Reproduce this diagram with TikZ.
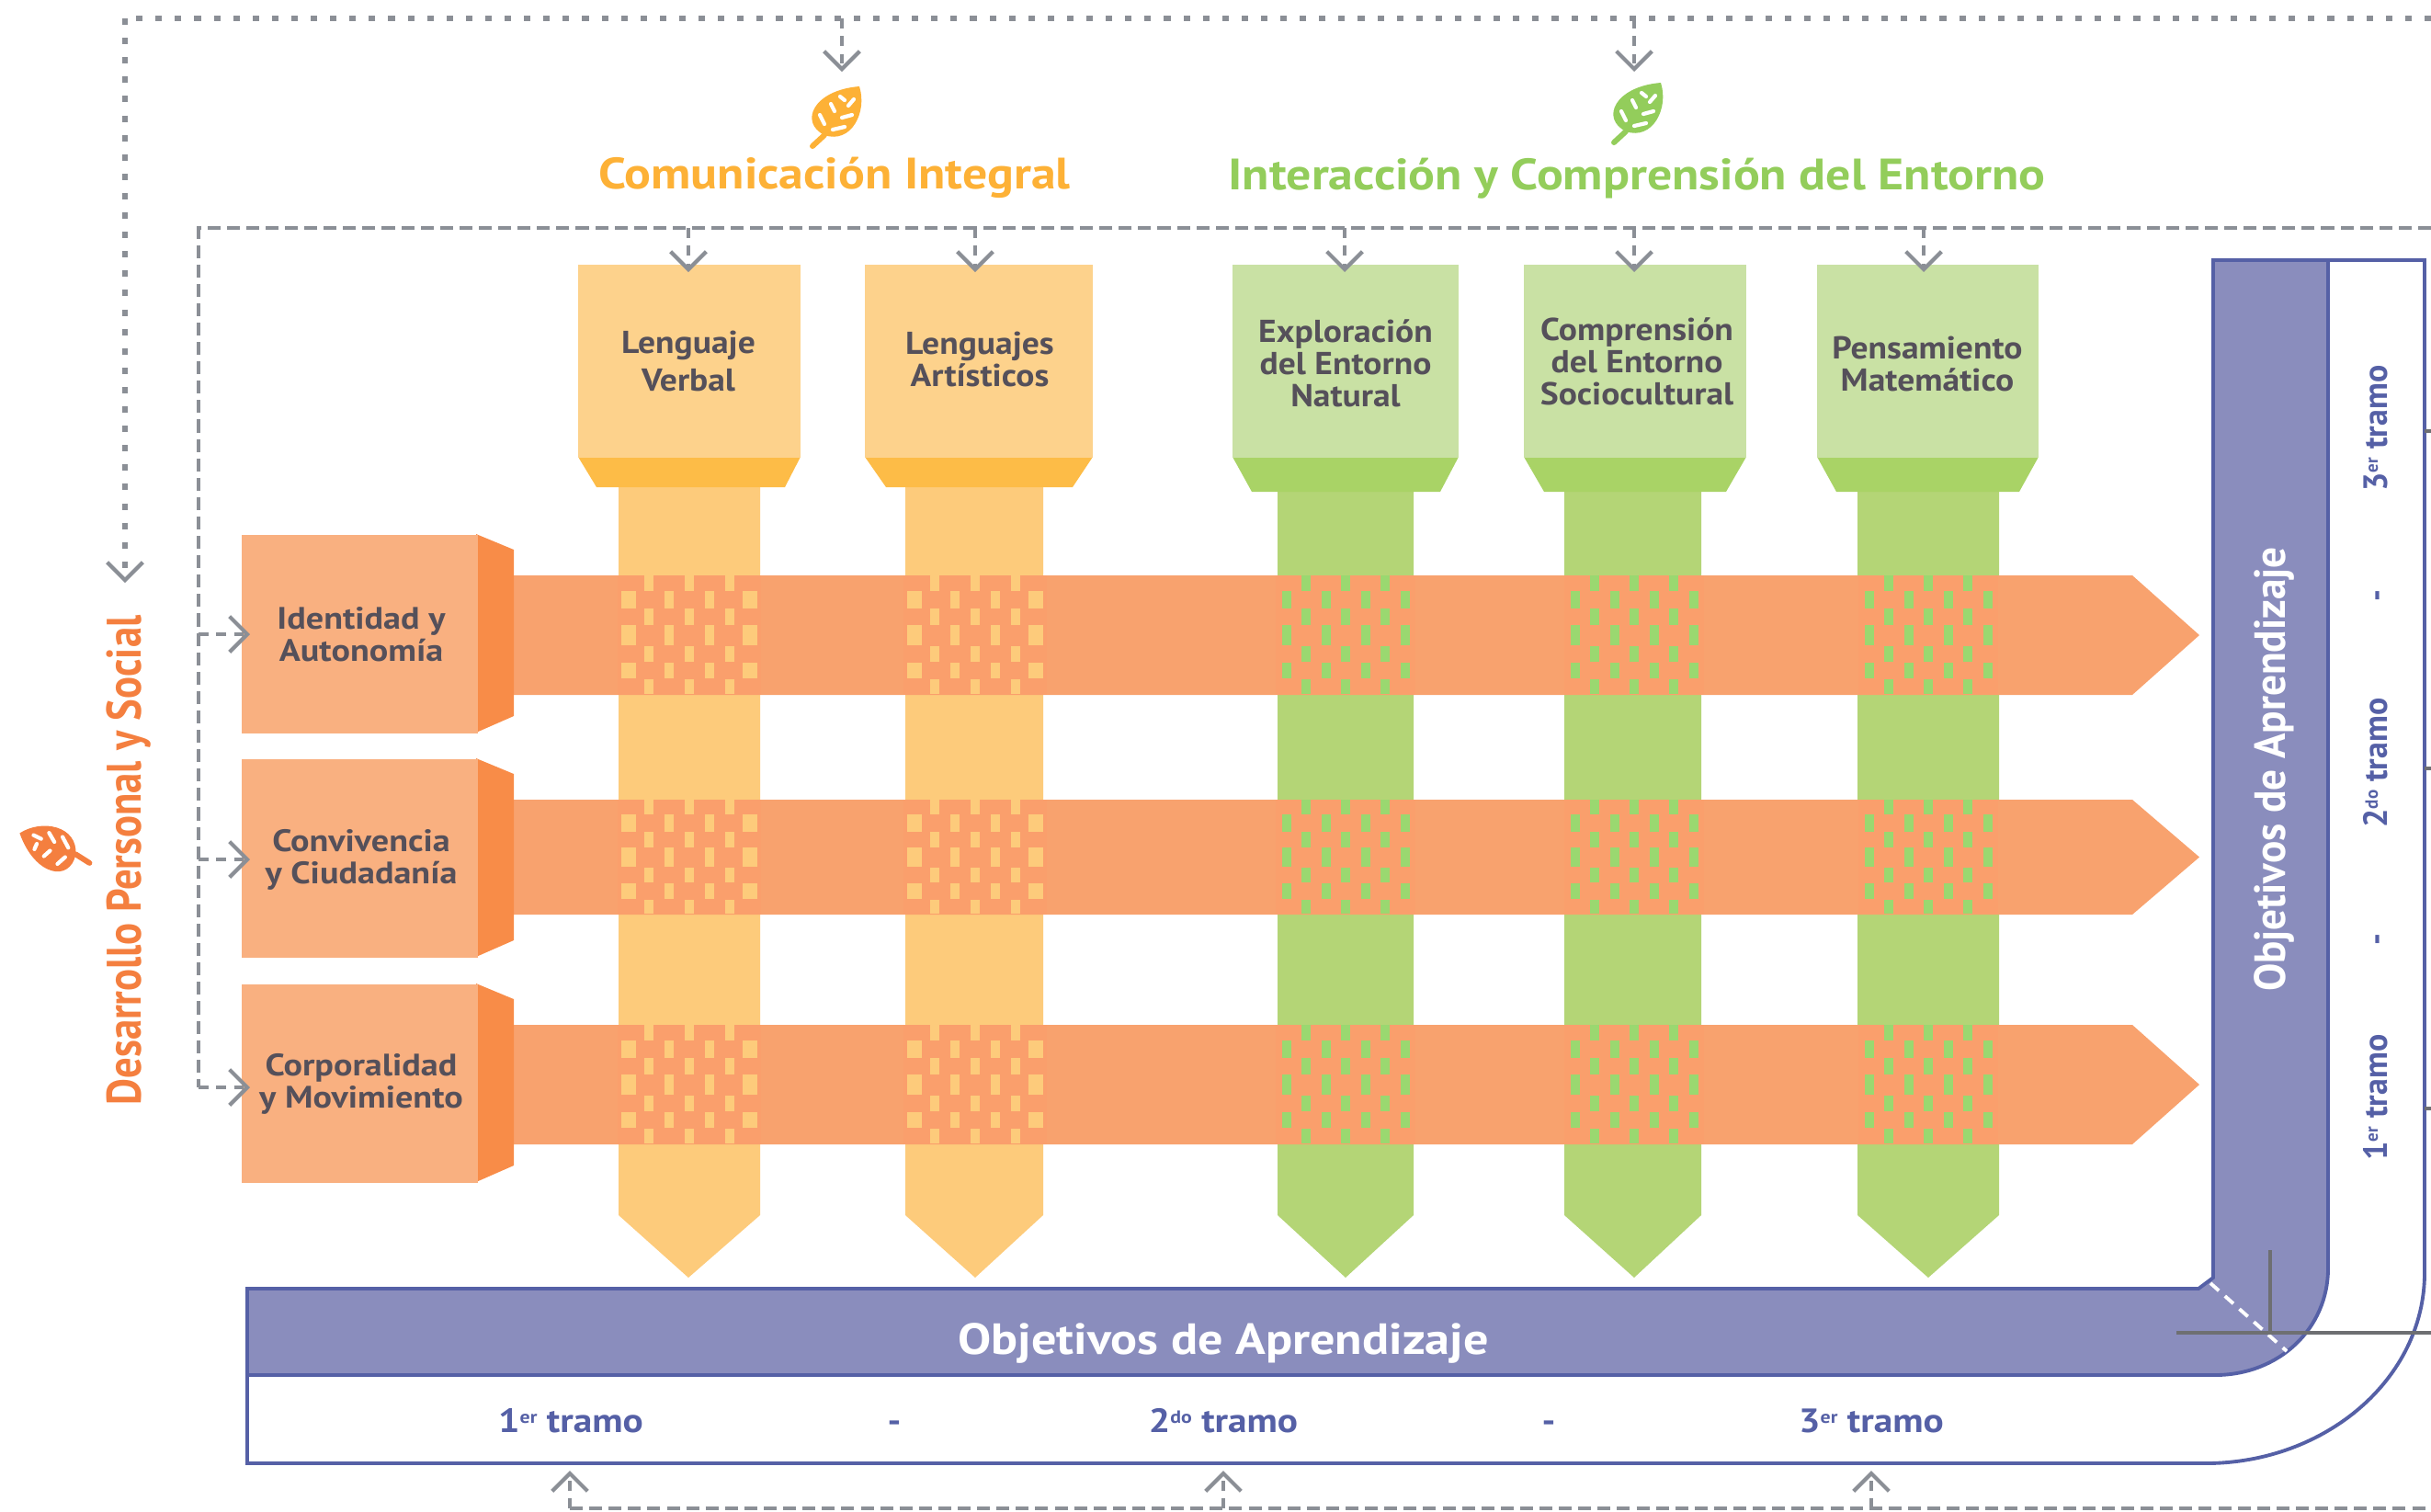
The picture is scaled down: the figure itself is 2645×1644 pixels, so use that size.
\documentclass[tikz,border=0pt]{standalone}
\usepackage{fontspec}
\setmainfont{PT Sans}
\usetikzlibrary{arrows.meta}
\definecolor{bandO}{HTML}{F8A26E}
\definecolor{crossO}{HTML}{FA9F6C}
\definecolor{sideO}{HTML}{F88C48}
\definecolor{boxO}{HTML}{F9B080}
\definecolor{stemY}{HTML}{FDCB7B}
\definecolor{boxY}{HTML}{FDD28C}
\definecolor{trapY}{HTML}{FDBC47}
\definecolor{stemG}{HTML}{B4D576}
\definecolor{boxG}{HTML}{C9E1A4}
\definecolor{trapG}{HTML}{A9D366}
\definecolor{weaveG}{HTML}{9AD870}
\definecolor{barB}{HTML}{8A8DBD}
\definecolor{lineB}{HTML}{5560A6}
\definecolor{arrowG}{HTML}{8B8F96}
\definecolor{lineG}{HTML}{6E6F72}
\definecolor{txtD}{HTML}{55505A}
\definecolor{titleY}{HTML}{FDB136}
\definecolor{titleG}{HTML}{93CD5B}
\definecolor{titleO}{HTML}{F47F3F}
\newcommand{\ordn}[1]{\raisebox{3pt}{\fontsize{5.5pt}{6pt}\selectfont #1}}
\tikzset{
  x=0.01cm,y=-0.01cm,
  dotline/.style={draw=arrowG,line width=1.7pt,dash pattern=on 2pt off 4pt},
  dashline/.style={draw=arrowG,line width=1.2pt,dash pattern=on 4pt off 2pt},
  barb/.style={-{Straight Barb[length=5.5pt,width=11pt,line width=1.2pt]},dash pattern=on 3pt off 2.5pt,draw=arrowG,line width=1.2pt},
  headtxt/.style={font=\bfseries\fontsize{9.8pt}{10pt}\selectfont,text=txtD,align=center,inner sep=0pt,xscale=1.09},
  lefttxt/.style={font=\bfseries\fontsize{9.6pt}{10pt}\selectfont,text=txtD,align=center,inner sep=0pt,xscale=1.13},
  title/.style={font=\bfseries\fontsize{13.6pt}{14pt}\selectfont,inner sep=0pt,xscale=1.125},
  objtxt/.style={font=\bfseries\fontsize{13.5pt}{14pt}\selectfont,text=white,inner sep=0pt},
  tramo/.style={font=\bfseries\fontsize{10.4pt}{11pt}\selectfont,text=lineB,inner sep=0pt,text height=9pt,text depth=3pt},
  leaf/.pic={
    \fill[pic actions] (-12,20) .. controls (-40,6) and (-24,-29) .. (26,-33) .. controls (35,-5) and (17,30) .. cycle;
    \draw[pic actions,fill=none,line width=1.7pt,line cap=round] (-12,20) -- (-25,32);
    \begin{scope}[draw=white,line width=1.2pt,line cap=round]
      \draw (-5,-14) -- (-1,-6);
      \draw (-17,-2) -- (-12,8);
      \draw (14,-12) -- (20,-19);
      \draw (7,1) -- (18,-2);
      \draw (-3,14) -- (10,11);
      \draw (5,-22) -- (10,-18);
    \end{scope}
  }
}
% centre x, band top, band height, colour, spacing, half outer width
\newcommand{\weave}[6]{%
  \fill[crossO] ({#1-3.55*#5},#2) rectangle ({#1+3.55*#5},{#2+#3});
  \foreach \k in {-2,0,2}{
    \foreach \a/\b in {0/17,36/54,77/94,113/129}{
      \fill[#4] ({#1+\k*#5-5},{#2+\a/130*#3}) rectangle ({#1+\k*#5+5},{#2+\b/130*#3});
    }
  }
  \foreach \k/\w in {-3/#6,-1/5,1/5,3/#6}{
    \foreach \a/\b in {17/36,54/76,95/112}{
      \fill[#4] ({#1+\k*#5-\w},{#2+\a/130*#3}) rectangle ({#1+\k*#5+\w},{#2+\b/130*#3});
    }
  }
}
\begin{document}
\begin{tikzpicture}
\useasboundingbox (0,0) rectangle (2645,1644);
% columns: stems
\foreach \l/\r/\t/\c/\col in {673/827/530/749/stemY,985/1135/530/1061/stemY,1390/1538/535/1464/stemG,1702/1851/535/1778/stemG,2021/2175/535/2098/stemG}{
  \fill[\col] (\l,\t) -- (\r,\t) -- (\r,1322) -- (\c,1390) -- (\l,1322) -- cycle;
}
% header trapezoids
\foreach \l/\r/\a/\b/\col/\y/\z in {629/871/649/854/trapY/497/530,941/1189/964/1167/trapY/497/530,1341/1587/1362/1567/trapG/497/535,1658/1900/1680/1878/trapG/497/535,1977/2218/1998/2197/trapG/497/535}{
  \fill[\col] (\l,\y) -- (\r,\y) -- (\b,\z) -- (\a,\z) -- cycle;
}
% header boxes
\tikzset{hb/.style={fill=#1,minimum height=2.1cm,inner sep=0pt,anchor=north}}
\node[hb=boxY,minimum width=2.42cm] (lv) at (750,287) {};
\node[hb=boxY,minimum width=2.48cm] (la) at (1065,287) {};
\node[hb=boxG,minimum width=2.46cm] (en) at (1464,287) {};
\node[hb=boxG,minimum width=2.42cm] (es) at (1779,287) {};
\node[hb=boxG,minimum width=2.41cm] (pm) at (2097.5,287) {};
\node[headtxt] (lvt) at (749,393) {Lenguaje\\[1.5pt]Verbal};
\node[headtxt] (lat) at (1066,391) {Lenguajes\\Artísticos};
\node[headtxt] (ent) at (1464,395) {Exploración\\del Entorno\\Natural};
\node[headtxt] (est) at (1781,393) {Comprensión\\del Entorno\\Sociocultural};
\node[headtxt] (pmt) at (2097,396) {Pensamiento\\Matemático};
% bands
\foreach \t/\h in {626/130,870/125,1115/130}{
  \pgfmathsetmacro{\mid}{\t+\h/2}
  \fill[bandO] (555,\t) -- (2320,\t) -- (2393,\mid) -- (2320,\t+\h) -- (555,\t+\h) -- cycle;
  \weave{750}{\t}{\h}{stemY}{22}{8}
  \weave{1061}{\t}{\h}{stemY}{22}{8}
  \weave{1464}{\t}{\h}{weaveG}{21.5}{5}
  \weave{1778}{\t}{\h}{weaveG}{21.5}{5}
  \weave{2098}{\t}{\h}{weaveG}{21.5}{5}
}
% left boxes
\foreach \t in {581,825,1070}{
  \fill[sideO] (518,\t) -- (559,\t+17) -- (559,\t+198) -- (518,\t+216) -- cycle;
}
\tikzset{lb/.style={fill=boxO,minimum width=2.57cm,minimum height=2.16cm,inner sep=0pt,anchor=north west}}
\node[lb] (ia) at (262,581) {};
\node[lb] (cc) at (262,825) {};
\node[lb] (cm) at (262,1070) {};
\node[lefttxt] (iat) at (393,690) {Identidad y\\Autonomía};
\node[lefttxt] (cct) at (393,935) {Convivencia\\y Ciudadanía};
\node[lefttxt] (cmt) at (393,1179) {Corporalidad\\y Movimiento};
% white panel and blue bar
\draw[lineB,line width=1.1pt] (2407,283) -- (2638,283) -- (2638,1385) .. controls (2638,1500) and (2530,1592) .. (2400,1592) -- (269,1592) -- (269,1402);
\draw[lineB,line width=1.1pt,fill=barB] (269,1402) -- (2392,1402) -- (2408,1390) -- (2408,283) -- (2533,283) -- (2533,1380) .. controls (2533,1445) and (2480,1496) .. (2410,1496) -- (269,1496) -- cycle;
\draw[white,line width=1.1pt,dash pattern=on 3.5pt off 2.5pt] (2405,1396) -- (2488,1470);
\coordinate (gv) at (2470,1360);
\coordinate (gc) at (2470,1450);
\coordinate (gl) at (2368,1450);
\coordinate (gr) at (2645,1450);
\draw[lineG,line width=1pt] (gv) -- (gc);
\draw[lineG,line width=1pt] (gl) -- (gr);
\foreach \y in {469,836,1206}{
  \draw[lineG,line width=1pt] (2638,\y) -- (2645,\y);
}
\node[objtxt,xscale=1.14] (oh) at (1331,1461) {Objetivos de Aprendizaje};
\node[objtxt,rotate=90,xscale=.955] (ov) at (2474,837) {Objetivos de Aprendizaje};
\foreach \x/\t in {621/1\ordn{er} tramo,1331/2\ordn{do} tramo,2036/3\ordn{er} tramo,973/-,1685/-}{
  \node[tramo,xscale=1.13] at (\x,1548) {\t};
}
\foreach \y/\t in {466/3\ordn{er} tramo,830/2\ordn{do} tramo,1194/1\ordn{er} tramo,648/-,1022/-}{
  \node[tramo,rotate=90,xscale=.98] at (2587,\y) {\t};
}
% titles
\node[title,text=titleY] (ci) at (908,193) {Comunicación Integral};
\node[title,text=titleG] (ic) at (1781,194) {Interacción y Comprensión del Entorno};
\node[font=\bfseries\fontsize{15pt}{16pt}\selectfont,text=titleO,inner sep=0pt,rotate=90,xscale=.847] (dp) at (140,936) {Desarrollo Personal y Social};
\path[fill=titleY,draw=titleY] pic at (909,127) {leaf};
\path[fill=titleG,draw=titleG] pic at (1781,123) {leaf};
\path[fill=titleO,draw=titleO] pic[rotate=105] at (60,923) {leaf};
% connectors
\coordinate (a0) at (136,20); \coordinate (a1) at (2645,20);
\draw[dotline] (a1) -- (a0);
\coordinate (a2) at (136,634);
\draw[barb,dash pattern=on 2pt off 4pt,line width=1.5pt] (a0) -- (a2);
\foreach \x/\yb in {916/78,1778/78}{
  \draw[barb] (\x,20) -- (\x,\yb);
}
\coordinate (b0) at (216,248); \coordinate (b1) at (2645,248); \coordinate (b2) at (216,1183);
\draw[dashline] (b1) -- (b0) -- (b2);
\foreach \x in {749,1061,1463,1778,2093}{
  \draw[barb] (\x,248) -- (\x,296);
}
\foreach \y in {690,935,1183}{
  \draw[barb] (216,\y) -- (272,\y);
}
\coordinate (c0) at (620,1641); \coordinate (c1) at (2645,1641);
\draw[dashline] (c0) -- (c1);
\foreach \x in {620,1331,2036}{
  \draw[barb] (\x,1641) -- (\x,1600);
}
\end{tikzpicture}
\end{document}
